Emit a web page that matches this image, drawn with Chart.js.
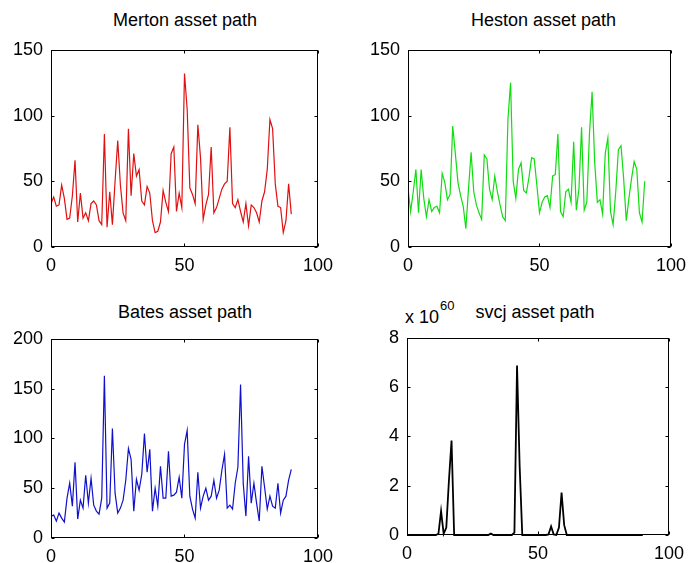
<!DOCTYPE html>
<html>
<head>
<meta charset="utf-8">
<script src="https://cdn.jsdelivr.net/npm/chart.js@4.4.1/dist/chart.umd.min.js"></script>
<style>
  html, body { margin: 0; padding: 0; background: #fff; }
  body { width: 694px; height: 563px; position: relative; overflow: hidden;
         font-family: "Liberation Sans", Arial, sans-serif; color: #000; }
  .panel { position: absolute; }
  .title { position: absolute; font-size: 18px; line-height: 18px; text-align: center; white-space: nowrap; }
  .exp { position: absolute; font-size: 18px; line-height: 18px; white-space: nowrap; }
  .sup { position: absolute; font-size: 13px; line-height: 13px; white-space: nowrap; }
</style>
</head>
<body>

<div class="title" style="left:51px;width:268px;top:11px">Merton asset path</div>
<div class="title" style="left:408px;width:271px;top:11px">Heston asset path</div>
<div class="title" style="left:51px;width:268px;top:303px">Bates asset path</div>
<div class="title" style="left:470px;width:130px;top:303px">svcj asset path</div>
<div class="exp" style="left:405px;top:308px">x 10</div>
<div class="sup" style="left:440px;top:299px">60</div>

<div class="panel" style="left:1px;top:31px;width:340px;height:241px"><canvas id="cMerton"></canvas></div>
<div class="panel" style="left:358px;top:31px;width:336px;height:241px"><canvas id="cHeston"></canvas></div>
<div class="panel" style="left:1px;top:320px;width:340px;height:243px"><canvas id="cBates"></canvas></div>
<div class="panel" style="left:357px;top:319px;width:335px;height:241px"><canvas id="cSvcj"></canvas></div>

<script>
// simulated asset paths, one value per time step (t = 0..90)
const merton = [33,38,31,32,47,37,21,22,39,66,
  19,41,22,26,20,33,35,32,20,17,
  86,15,42,17,50,81,47,26,20,90,
  39,71,54,59,35,32,46,41,20,11,
  12,19,43,34,27,71,76,27,41,30,
  132,105,45,40,33,93,68,21,32,40,
  76,26,30,37,44,48,50,91,33,30,
  36,27,19,33,16,32,30,26,19,35,
  42,59,97,90,48,31,30,11,20,48,
  25];

const heston = [45,27,42,59,26,59,37,23,36,27,
  30,31,26,56,49,36,40,92,71,49,
  39,31,14,44,72,42,32,26,21,70,
  67,44,36,54,42,32,23,20,97,125,
  50,37,59,64,43,41,53,68,67,47,
  26,34,38,39,30,54,55,86,27,23,
  42,44,34,80,28,44,91,28,34,86,
  118,64,34,36,25,71,83,27,17,42,
  74,77,52,20,37,52,65,59,26,19,
  50];

const bates = [22,23,17,25,20,16,40,55,32,76,
  19,38,30,63,35,60,33,27,24,40,
  163,30,35,110,45,25,30,38,58,90,
  79,27,59,48,64,105,66,89,27,50,
  32,72,40,40,87,42,43,46,61,40,
  94,108,42,29,20,66,30,42,50,38,
  42,58,40,48,68,84,30,33,29,55,
  71,154,55,22,82,35,55,35,17,72,
  51,29,42,32,30,55,25,38,42,58,
  69];

// svcj values in units of 10^60
const svcj = [0,0,0,0,0,0,0,0,0,0,
  0,0,0.05,0.97,0.05,0.3,2.2,3.83,0,0,
  0,0,0,0,0,0,0,0,0,0,
  0,0,0.06,0,0,0,0,0,0,0,
  0,0.1,6.88,2.8,0,0,0,0,0,0,
  0,0,0,0,0.02,0.35,0.02,0,0.3,1.72,
  0.4,0,0,0,0,0,0,0,0,0,
  0,0,0,0,0,0,0,0,0,0,
  0,0,0,0,0,0,0,0,0,0,
  0];

const xTicks = [0, 50, 100];
const yTicksPrice = [0, 50, 100, 150];
const yTicksBates = [0, 50, 100, 150, 200];
const yTicksSvcj = [0, 2, 4, 6, 8];

const FONT = { family: "'Liberation Sans', Arial, sans-serif", size: 18 };

// matlab-style box with inward ticks on all four sides
const boxTicks = {
  id: 'boxTicks',
  afterDatasetsDraw(chart) {
    const { ctx, chartArea: a, scales: { x, y } } = chart;
    const L = Math.round(a.left) + 0.5, R = Math.round(a.right) - 0.5;
    const T = Math.round(a.top) + 0.5, B = Math.round(a.bottom) - 0.5;
    ctx.save();
    ctx.strokeStyle = '#000';
    ctx.lineWidth = 1;
    ctx.strokeRect(L, T, R - L, B - T);
    ctx.beginPath();
    x.ticks.forEach(t => {
      const px = Math.round(x.getPixelForValue(t.value)) + 0.5;
      ctx.moveTo(px, B); ctx.lineTo(px, B - 3);
      ctx.moveTo(px, T); ctx.lineTo(px, T + 3);
    });
    y.ticks.forEach(t => {
      const py = Math.round(y.getPixelForValue(t.value)) + 0.5;
      ctx.moveTo(L, py); ctx.lineTo(L + 3, py);
      ctx.moveTo(R, py); ctx.lineTo(R - 3, py);
    });
    ctx.stroke();
    ctx.restore();
  }
};

function makePanel(id, values, color, yTicks, width, padRight, clip) {
  const yMax = yTicks[yTicks.length - 1];
  new Chart(document.getElementById(id), {
    type: 'line',
    data: {
      datasets: [{
        data: values.map((v, i) => ({ x: i, y: v })),
        borderColor: color,
        borderWidth: width,
        pointRadius: 0,
        tension: 0,
        fill: false,
        clip: clip,
      }],
    },
    options: {
      responsive: true,
      maintainAspectRatio: false,
      animation: false,
      events: [],
      layout: { padding: { left: 0, top: 12, right: padRight, bottom: 0 } },
      plugins: { legend: { display: false }, tooltip: { enabled: false } },
      scales: {
        x: {
          type: 'linear', min: 0, max: 100,
          afterBuildTicks: (s) => { s.ticks = xTicks.map(v => ({ value: v })); },
          afterFit: (s) => { s.height = 25; },
          grid: { display: false, drawTicks: false },
          border: { display: false },
          ticks: { font: FONT, color: '#000', padding: 8, maxRotation: 0 },
        },
        y: {
          min: 0, max: yMax,
          afterBuildTicks: (s) => { s.ticks = yTicks.map(v => ({ value: v })); },
          afterFit: (s) => { s.width = 50; },
          grid: { display: false, drawTicks: false },
          border: { display: false },
          ticks: { font: FONT, color: '#000', padding: 8 },
        },
      },
    },
    plugins: [boxTicks],
  });
}

makePanel('cMerton', merton, '#e01010', yTicksPrice, 1.2, 22, 0);
makePanel('cHeston', heston, '#10dd10', yTicksPrice, 1.2, 15, 0);
makePanel('cBates', bates, '#1010cc', yTicksBates, 1.2, 22, 0);
makePanel('cSvcj', svcj, '#000000', yTicksSvcj, 1.8, 22, 3);
</script>
</body>
</html>
